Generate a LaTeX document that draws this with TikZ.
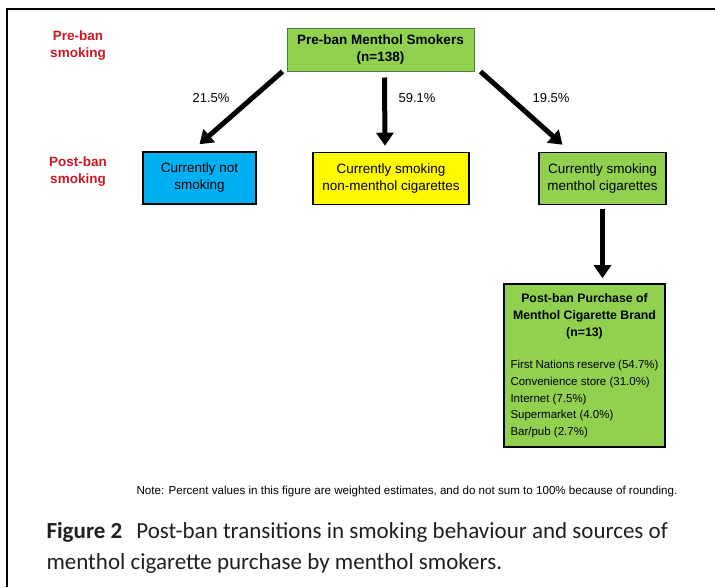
\documentclass[tikz,border=0pt]{standalone}
\usepackage{fontspec}
\setmainfont{Liberation Sans}
\newfontfamily\capfont{Carlito}
\usepackage{tikz}
\usetikzlibrary{arrows.meta, positioning}
\definecolor{boxgreen}{RGB}{146,208,80}
\definecolor{boxblue}{RGB}{0,176,240}
\definecolor{boxyellow}{RGB}{255,250,0}
\definecolor{labelred}{RGB}{204,24,36}
\tikzstyle{start} = [rectangle, align=center, draw=green!35!black!75, line width=1pt, fill=boxgreen, minimum width=187pt, minimum height=43pt, font=\bfseries\fontsize{13.5}{17}\selectfont]
\tikzstyle{state} = [rectangle, align=center, draw=black, line width=1.6pt, minimum height=52pt, font=\fontsize{13.5}{17}\selectfont]
\tikzstyle{buy} = [rectangle, draw=black, line width=1.6pt, fill=boxgreen, minimum width=161pt, minimum height=163pt]
\tikzstyle{stage} = [align=center, text=labelred, font=\bfseries\fontsize{13.5}{17}\selectfont]
\tikzstyle{pct} = [font=\fontsize{13}{15}\selectfont]
\tikzstyle{arrow} = [line width=5pt, -{Triangle[length=13pt,width=17pt]}]
\def\gap{6pt}

\begin{document}
\begin{tikzpicture}[x=1pt, y=-1pt]
\useasboundingbox (0,0) rectangle (715,587);
\draw [line width=2pt] (7,587) -- (7,9) -- (715,9);

\node (pre) [stage] at (78,46) {Pre-ban\\smoking};
\node (post) [stage] at (78,172) {Post-ban\\smoking};

\node (top) [start] at (380.5,49.5) {Pre-ban Menthol Smokers\\(n=138)};

\node (notsmk) [state, fill=boxblue, minimum width=113pt] at (199.5,178) {Currently not\\smoking};
\node (nonmen) [state, fill=boxyellow, minimum width=156pt] at (391,178.5) {Currently smoking\\non-menthol cigarettes};
\node (men) [state, fill=boxgreen, minimum width=127pt] at (602.5,178.5) {Currently smoking\\menthol cigarettes};

\draw [arrow] ([xshift=-4pt]top.south west) -- ([yshift=7pt]notsmk.north);
\draw [arrow] ([xshift=4pt, yshift=-\gap]top.south) -- ([xshift=-6pt, yshift=\gap]nonmen.north);
\draw [arrow] ([xshift=6pt]top.south east) -- ([xshift=-40pt, yshift=7pt]men.north);

\node (p1) [pct] at (211,98) {21.5\%};
\node (p2) [pct] at (417,98) {59.1\%};
\node (p3) [pct] at (551,98) {19.5\%};

\node (purchase) [buy] at (584.5,365.5) {%
\begin{minipage}{148pt}
\fontsize{12.3}{17}\selectfont
{\centering\bfseries Post-ban Purchase of\\Menthol Cigarette Brand\\(n=13)\par}
\vspace{16pt}
\fontsize{11.5}{16.7}\selectfont
First Nations reserve (54.7\%)\\
Convenience store (31.0\%)\\
Internet (7.5\%)\\
Supermarket (4.0\%)\\
Bar/pub (2.7\%)
\end{minipage}};

\draw [arrow] ([yshift=-4pt]men.south) -- ([yshift=5pt]men.south |- purchase.north);

\node (note) at (407,491) {\fontsize{11.6}{13}\selectfont Note: Percent values in this figure are weighted estimates, and do not sum to 100\% because of rounding.};

\node (caption) [anchor=north west, align=left, text=black!88, font=\capfont\fontsize{23}{31}\selectfont] at (43,519) {\textbf{Figure 2}\hspace{14pt}Post-ban transitions in smoking behaviour and sources of\\menthol cigarette purchase by menthol smokers.};
\end{tikzpicture}
\end{document}
